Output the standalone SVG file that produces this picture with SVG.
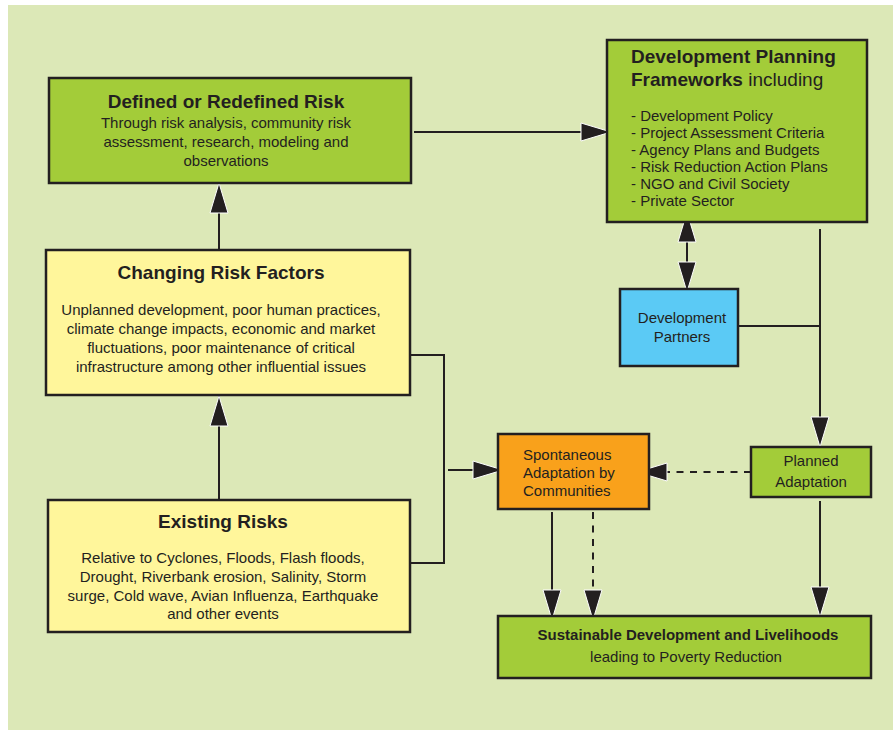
<svg xmlns="http://www.w3.org/2000/svg" width="893" height="730" viewBox="0 0 893 730">
<style>
.box{stroke:#231f20;stroke-width:2.5}
.green{fill:#a3cc39}
.yellow{fill:#fff69b}
.orange{fill:#f9a11b}
.blue{fill:#5bcaf5}
text{font-family:"Liberation Sans",Arial,sans-serif;fill:#231f20}
.t{font-size:19px;font-weight:bold}
.b{font-size:15px}
.c{text-anchor:middle}
.conn{fill:none;stroke:#231f20;stroke-width:2}
.dash{stroke-dasharray:7 6.5}
</style>
<defs>
<marker id="ah" viewBox="0 0 32 20" markerWidth="32" markerHeight="20" refX="31" refY="10" orient="auto-start-reverse" markerUnits="userSpaceOnUse">
<path d="M1,1 L31,10 L1,19 Z" fill="#231f20" stroke="#ffffff" stroke-width="1" stroke-dasharray="none"/>
</marker>
</defs>
<rect x="8" y="5" width="885" height="725" fill="#dce8b7"/>

<g id="connectors">
<path class="conn" d="M414,132 H611" marker-end="url(#ah)"/>
<path class="conn" d="M219,249 V183" marker-end="url(#ah)"/>
<path class="conn" d="M219,499 V396" marker-end="url(#ah)"/>
<path class="conn" d="M410,355 H444 V563 H410"/>
<path class="conn" d="M448,470 H503" marker-end="url(#ah)"/>
<path class="conn" d="M687,212 V292" marker-start="url(#ah)" marker-end="url(#ah)"/>
<path class="conn" d="M820,229 V447" marker-end="url(#ah)"/>
<path class="conn" d="M738,326 H820"/>
<path class="conn dash" d="M751,472 H637" marker-end="url(#ah)"/>
<path class="conn" d="M552,512 V620" marker-end="url(#ah)"/>
<path class="conn dash" d="M593,512 V620" marker-end="url(#ah)"/>
<path class="conn" d="M820,501 V617" marker-end="url(#ah)"/>
</g>

<g id="defined-risk">
<rect class="box green" x="49" y="78" width="362" height="105"/>
<text class="t c" x="226" y="108">Defined or Redefined Risk</text>
<text class="b c" x="226" y="128">Through risk analysis, community risk</text>
<text class="b c" x="226" y="147">assessment, research, modeling and</text>
<text class="b c" x="226" y="166">observations</text>
</g>

<g id="changing-risk-factors">
<rect class="box yellow" x="46" y="250" width="364" height="145"/>
<text class="t c" x="221" y="279">Changing Risk Factors</text>
<text class="b c" x="221" y="315">Unplanned development, poor human practices,</text>
<text class="b c" x="221" y="334">climate change impacts, economic and market</text>
<text class="b c" x="221" y="353">fluctuations, poor maintenance of critical</text>
<text class="b c" x="221" y="372">infrastructure among other influential issues</text>
</g>

<g id="existing-risks">
<rect class="box yellow" x="48" y="500" width="362" height="132"/>
<text class="t c" x="223" y="528">Existing Risks</text>
<text class="b c" x="223" y="563">Relative to Cyclones, Floods, Flash floods,</text>
<text class="b c" x="223" y="582">Drought, Riverbank erosion, Salinity, Storm</text>
<text class="b c" x="223" y="601">surge, Cold wave, Avian Influenza, Earthquake</text>
<text class="b c" x="223" y="619">and other events</text>
</g>

<g id="development-planning-frameworks">
<rect class="box green" x="607" y="40" width="260" height="182"/>
<text class="t" x="631" y="63">Development Planning</text>
<text x="631" y="86" style="font-size:19px"><tspan font-weight="bold">Frameworks</tspan> including</text>
<text class="b" x="631" y="121">- Development Policy</text>
<text class="b" x="631" y="138">- Project Assessment Criteria</text>
<text class="b" x="631" y="155">- Agency Plans and Budgets</text>
<text class="b" x="631" y="172">- Risk Reduction Action Plans</text>
<text class="b" x="631" y="189">- NGO and Civil Society</text>
<text class="b" x="631" y="206">- Private Sector</text>
</g>

<g id="development-partners">
<rect class="box blue" x="620" y="289" width="118" height="77"/>
<text class="b c" x="682" y="323">Development</text>
<text class="b c" x="682" y="342">Partners</text>
</g>

<g id="spontaneous-adaptation">
<rect class="box orange" x="498" y="434" width="151" height="75"/>
<text class="b" x="523" y="460">Spontaneous</text>
<text class="b" x="523" y="478">Adaptation by</text>
<text class="b" x="523" y="496">Communities</text>
</g>

<g id="planned-adaptation">
<rect class="box green" x="751" y="447" width="120" height="50"/>
<text class="b c" x="811" y="466">Planned</text>
<text class="b c" x="811" y="487">Adaptation</text>
</g>

<g id="sustainable-development">
<rect class="box green" x="498" y="616" width="373" height="62"/>
<text class="c" x="688" y="640" style="font-size:15px;font-weight:bold">Sustainable Development and Livelihoods</text>
<text class="b c" x="686" y="662">leading to Poverty Reduction</text>
</g>
</svg>
